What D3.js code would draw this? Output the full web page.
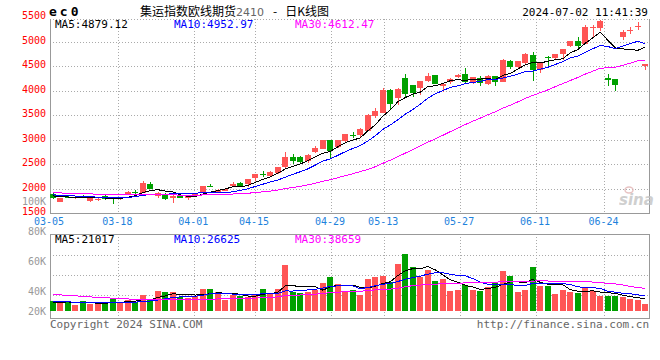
<!DOCTYPE html>
<html>
<head>
<meta charset="utf-8">
<script src="https://cdn.jsdelivr.net/npm/d3@7"></script>
<style>
  body { margin: 0; background: #fff; }
  text { font-family: "DejaVu Sans Mono", monospace; font-size: 10px; }
</style>
</head>
<body>
<div id="chart"></div>
<script>
// Trading days shown on the chart
const dates = [
  '03-05','03-06','03-07','03-08','03-11','03-12','03-13','03-14','03-15',
  '03-18','03-19','03-20','03-21','03-22','03-25','03-26','03-27','03-28','03-29',
  '04-01','04-02','04-03','04-08','04-09','04-10','04-11','04-12',
  '04-15','04-16','04-17','04-18','04-19','04-22','04-23','04-24','04-25','04-26',
  '04-29','04-30','05-06','05-07','05-08','05-09','05-10',
  '05-13','05-14','05-15','05-16','05-17','05-20','05-21','05-22','05-23','05-24',
  '05-27','05-28','05-29','05-30','05-31','06-03','06-04','06-05','06-06','06-07',
  '06-11','06-12','06-13','06-14','06-17','06-18','06-19','06-20','06-21',
  '06-24','06-25','06-26','06-27','06-28','07-01','07-02'
];

const open = [
  1878,1727,1830,1796,1845,1740,1778,1850,1800,1782,1878,1935,1918,2094,1837,1890,1796,1863,1796,1860,
  1918,2060,1930,1951,2041,2115,2088,2210,2300,2265,2312,2429,2633,2645,2563,2735,2816,2992,2849,2972,
  3095,3088,3176,3482,3551,4012,3843,4265,4108,4047,4190,4312,4094,4170,4272,4339,4170,4251,4135,4292,
  4184,4598,4490,4557,4727,4420,4680,4673,4747,4918,5020,4952,5285,5272,4265,4231,5102,5232,5322,4510
];
const high = [
  1900,1800,1850,1835,1870,1800,1810,1865,1815,1835,1940,1960,2150,2125,1930,1900,1860,1880,1845,1890,
  2060,2090,1990,2015,2125,2140,2200,2300,2350,2360,2440,2735,2700,2660,2700,2870,3000,3000,2995,3115,
  3160,3240,3530,3640,4047,4030,4060,4340,4115,4200,4360,4320,4140,4260,4340,4459,4280,4300,4320,4300,
  4650,4620,4610,4760,4790,4580,4700,4750,4850,5020,5090,5340,5340,5445,4333,4240,5235,5300,5390,4545
];
const low = [
  1790,1715,1800,1790,1815,1730,1745,1770,1690,1775,1870,1882,1910,1990,1810,1760,1714,1800,1760,1840,
  1910,2030,1905,1940,2030,2035,2040,2143,2240,2230,2300,2420,2500,2520,2520,2725,2800,2598,2820,2950,
  3030,3060,3170,3440,3540,3618,3700,3840,3870,3900,4170,4135,3965,4130,4250,4150,4140,4100,4120,4100,
  4170,4440,4470,4540,4196,4350,4455,4650,4618,4880,4850,4940,5082,5220,4094,4000,5040,5150,5240,4420
];
const close = [
  1800,1796,1818,1828,1840,1796,1782,1782,1796,1822,1930,1925,2108,2000,1918,1782,1850,1808,1837,1880,
  2053,2050,1970,2000,2102,2047,2190,2292,2292,2347,2429,2633,2563,2531,2680,2823,2992,2767,2986,3108,
  3088,3210,3496,3584,4006,3720,4041,3925,3945,4190,4292,4143,4135,4237,4319,4184,4272,4155,4306,4184,
  4625,4475,4598,4741,4420,4571,4660,4747,4843,5020,4911,5306,5292,5421,4216,4115,5204,5237,5327,4537
];
const volume = [
  17600,15300,17600,10600,17600,11800,11800,14000,22900,14700,19400,15300,28200,21200,35300,33500,33500,24700,22300,27000,
  38800,38800,33500,19400,28200,25900,25300,30600,38800,31800,38800,81000,32900,31800,34100,36400,49400,60000,47600,35300,
  37000,28200,56400,60000,61700,51200,82900,100500,77600,60000,72000,52900,56400,35300,37000,45900,37000,35300,42300,49400,
  70000,61700,33500,37000,77000,44100,44100,30000,37000,33500,31000,42000,35000,26000,27000,26000,25000,22000,19000,13000
];

// Closes and volumes before 03-05, estimated from where the moving averages start
const priorClose = [
  1960,1985,1940,1925,1990,2010,1970,1945,1920,1905,1930,1955,1910,1890,1925,1950,1935,1900,1915,1875,
  1905,1880,1895,1870,1900,1880,1850,1875,1845
];
const priorVolume = [
  45000,38000,42000,36000,44000,40000,37000,41000,39000,38000,34000,30000,33000,29000,35000,31000,32000,30000,33000,31000,
  19000,16000,18000,17000,17500,15000,14000,16000,13900
];

const priceTicks = [1500, 2000, 2500, 3000, 3500, 4000, 4500, 5000, 5500];
const volTicks = [20000, 40000, 60000, 80000, 100000];
const volTickLabels = ['20K', '40K', '60K', '80K', '100K'];
const dateTicks = ['03-05','03-18','04-01','04-15','04-29','05-13','05-27','06-11','06-24'];

const maNames = ['MA5', 'MA10', 'MA30'];
const maPeriods = [5, 10, 30];
const priceMaValues = ['4879.12', '4952.97', '4612.47'];
const volMaValues = ['21017', '26625', '38659'];

const symbol = 'ec0';
const titleMain = '集运指数欧线期货';
const titleCode = '2410';
const titleDash = '-';
const titleTail = '日K线图';
const timestamp = '2024-07-02 11:41:39';
const copyright = 'Copyright 2024 SINA.COM';
const siteUrl = 'http://finance.sina.com.cn';

// Layout
const width = 660, height = 360;
const left = 50, right = 649;
const pTop = 19, pBottom = 213;
const vTop = 234, vBase = 311, vBottom = 318;
const red = '#ff5555', green = '#00a000';
const maColors = ['#000000', '#0000ff', '#ff00ff'];
const gridColor = '#aaaaaa';

const svg = d3.select('#chart')
  .append('svg')
  .attr('width', width)
  .attr('height', height);

// Scales
const x = d3.scaleBand()
  .domain(dates)
  .range([left - 1, right])
  .paddingInner(0.2)
  .paddingOuter(0.1);
const bw = x.bandwidth();
const cx = d => x(d) + bw / 2;

const xTick = d3.scalePoint()
  .domain(dates)
  .range([left, right + 1]);

const y = d3.scaleLinear().domain([1500, 5460]).range([pBottom, pTop]);
const yv = d3.scaleLinear().domain([0, 136000]).range([vBase, vTop]);
// sina places its volume labels on their own spacing, the lowest one sits on the bar base
const yvLabel = d3.scaleLinear().domain([40000, 100000]).range([291, 201]);

// Moving average helper
function movingAvg(values, prior, n) {
  const all = prior.concat(values);
  const off = prior.length;
  return values.map((v, i) => d3.mean(all.slice(off + i - n + 1, off + i + 1)));
}

const candles = dates.map((d, i) => ({
  date: d, o: open[i], h: high[i], l: low[i], c: close[i], v: volume[i],
  color: close[i] >= open[i] ? red : green
}));

// ---------- Grid ----------
const grid = svg.append('g')
  .attr('stroke', gridColor)
  .attr('stroke-dasharray', '1,2')
  .attr('shape-rendering', 'crispEdges');

grid.selectAll('.hg')
  .data(priceTicks.filter(t => t > 1500 && t < 5500))
  .enter().append('line')
  .attr('x1', left).attr('x2', right)
  .attr('y1', d => Math.round(y(d)) + 0.5).attr('y2', d => Math.round(y(d)) + 0.5);

// top edge of price panel is dotted
grid.append('line')
  .attr('x1', left).attr('x2', right)
  .attr('y1', pTop + 0.5).attr('y2', pTop + 0.5);

grid.selectAll('.vg')
  .data(dateTicks.slice(1))
  .enter().append('line')
  .attr('x1', d => Math.round(xTick(d)) + 0.5).attr('x2', d => Math.round(xTick(d)) + 0.5)
  .attr('y1', pTop).attr('y2', pBottom);

grid.selectAll('.vgv')
  .data(dateTicks.slice(1))
  .enter().append('line')
  .attr('x1', d => Math.round(xTick(d)) + 0.5).attr('x2', d => Math.round(xTick(d)) + 0.5)
  .attr('y1', vTop).attr('y2', vBottom);

// volume panel horizontal grid (evenly spaced)
grid.selectAll('.vh')
  .data([0, 1, 2])
  .enter().append('line')
  .attr('x1', left).attr('x2', right)
  .attr('y1', d => vTop + 21.5 + d * 20).attr('y2', d => vTop + 21.5 + d * 20);

// ---------- Borders ----------
const border = svg.append('g')
  .attr('stroke', '#999')
  .attr('fill', 'none')
  .attr('shape-rendering', 'crispEdges');
border.append('path')
  .attr('d', `M${left + 0.5},${pTop}V${pBottom + 0.5}H${right + 0.5}V${pTop}`);
border.append('rect')
  .attr('x', left + 0.5).attr('y', vTop + 0.5)
  .attr('width', right - left).attr('height', vBottom - vTop);

// ---------- Watermark ----------
const logo = svg.append('g').attr('opacity', 0.8);
logo.append('ellipse')
  .attr('cx', 629).attr('cy', 190).attr('rx', 4).attr('ry', 3)
  .attr('fill', 'none').attr('stroke', '#e3b5b5').attr('stroke-width', 1.5);
logo.append('text')
  .attr('x', 619).attr('y', 205)
  .attr('fill', '#c4c4c4')
  .style('font-family', '"DejaVu Sans", sans-serif')
  .style('font-size', '15px')
  .style('font-weight', 'bold')
  .style('font-style', 'italic')
  .text('sina');

// ---------- Candles ----------
const cg = svg.append('g').attr('shape-rendering', 'crispEdges');
cg.selectAll('.wick')
  .data(candles)
  .enter().append('line')
  .attr('x1', d => Math.round(cx(d.date)) + 0.5)
  .attr('x2', d => Math.round(cx(d.date)) + 0.5)
  .attr('y1', d => y(d.h))
  .attr('y2', d => y(d.l))
  .attr('stroke', d => d.color);

cg.selectAll('.body')
  .data(candles)
  .enter().append('rect')
  .attr('x', d => Math.round(x(d.date)))
  .attr('y', d => y(Math.max(d.o, d.c)))
  .attr('width', Math.round(bw))
  .attr('height', d => Math.max(1, Math.abs(y(d.o) - y(d.c))))
  .attr('fill', d => d.color);

// ---------- Price MAs ----------
maPeriods.forEach((n, k) => {
  const ma = movingAvg(close, priorClose, n);
  svg.append('path')
    .datum(ma)
    .attr('fill', 'none')
    .attr('stroke', maColors[k])
    .attr('stroke-width', 1)
    .attr('shape-rendering', 'crispEdges')
    .attr('d', d3.line().x((d, i) => cx(dates[i])).y(d => y(d)));
});

// ---------- Volume ----------
svg.append('g').attr('shape-rendering', 'crispEdges')
  .selectAll('rect')
  .data(candles)
  .enter().append('rect')
  .attr('x', d => Math.round(x(d.date)))
  .attr('y', d => yv(d.v))
  .attr('width', Math.round(bw))
  .attr('height', d => vBase - yv(d.v))
  .attr('fill', d => d.color);

maPeriods.forEach((n, k) => {
  const ma = movingAvg(volume, priorVolume, n);
  svg.append('path')
    .datum(ma)
    .attr('fill', 'none')
    .attr('stroke', maColors[k])
    .attr('stroke-width', 1)
    .attr('shape-rendering', 'crispEdges')
    .attr('d', d3.line().x((d, i) => cx(dates[i])).y(d => yv(d)));
});

// ---------- Axis labels ----------
svg.selectAll('.plab')
  .data(priceTicks)
  .enter().append('text')
  .attr('x', 46)
  .attr('y', d => y(d) - 1.5)
  .attr('dy', '0.35em')
  .attr('text-anchor', 'end')
  .attr('fill', '#ff0000')
  .text(d => d);

svg.selectAll('.vlab')
  .data(volTicks)
  .enter().append('text')
  .attr('x', 46)
  .attr('y', d => Math.min(yvLabel(d), vBase))
  .attr('dy', '0.35em')
  .attr('text-anchor', 'end')
  .attr('fill', '#999')
  .text((d, i) => volTickLabels[i]);

svg.selectAll('.dlab')
  .data(dateTicks)
  .enter().append('text')
  .attr('x', d => xTick(d) - 1)
  .attr('y', 221)
  .attr('dy', '0.35em')
  .attr('text-anchor', 'middle')
  .attr('fill', '#1e82dc')
  .text(d => d);

// ---------- Header texts ----------
svg.append('text')
  .attr('x', 49).attr('y', 16)
  .style('font-size', '13px')
  .style('font-weight', 'bold')
  .style('letter-spacing', '3px')
  .text(symbol);

const title = svg.append('text')
  .attr('x', 140).attr('y', 16)
  .style('font-family', '"Noto Sans CJK SC", sans-serif')
  .style('font-size', '12px');
title.append('tspan').text(titleMain);
title.append('tspan').attr('fill', '#666').style('font-family', '"DejaVu Sans", sans-serif').style('font-size', '11px').text(titleCode);
title.append('tspan').attr('dx', 9).text(titleDash);
title.append('tspan').attr('dx', 8).text(titleTail);

svg.append('text')
  .attr('x', 648).attr('y', 16)
  .attr('text-anchor', 'end')
  .style('font-size', '11px')
  .text(timestamp);

const maLabelX = [55, 174, 295];
maNames.forEach((name, k) => {
  svg.append('text')
    .attr('x', maLabelX[k]).attr('y', 27.5)
    .attr('fill', maColors[k])
    .style('font-size', '11px')
    .text(`${name}:${priceMaValues[k]}`);
  svg.append('text')
    .attr('x', maLabelX[k]).attr('y', 242.5)
    .attr('fill', maColors[k])
    .style('font-size', '11px')
    .text(`${name}:${volMaValues[k]}`);
});

// ---------- Footer ----------
svg.append('text')
  .attr('x', 50).attr('y', 327.5)
  .attr('fill', '#666')
  .style('font-size', '11px')
  .text(copyright);

svg.append('text')
  .attr('x', 649).attr('y', 327.5)
  .attr('text-anchor', 'end')
  .attr('fill', '#666')
  .style('font-size', '11px')
  .text(siteUrl);
</script>
</body>
</html>
